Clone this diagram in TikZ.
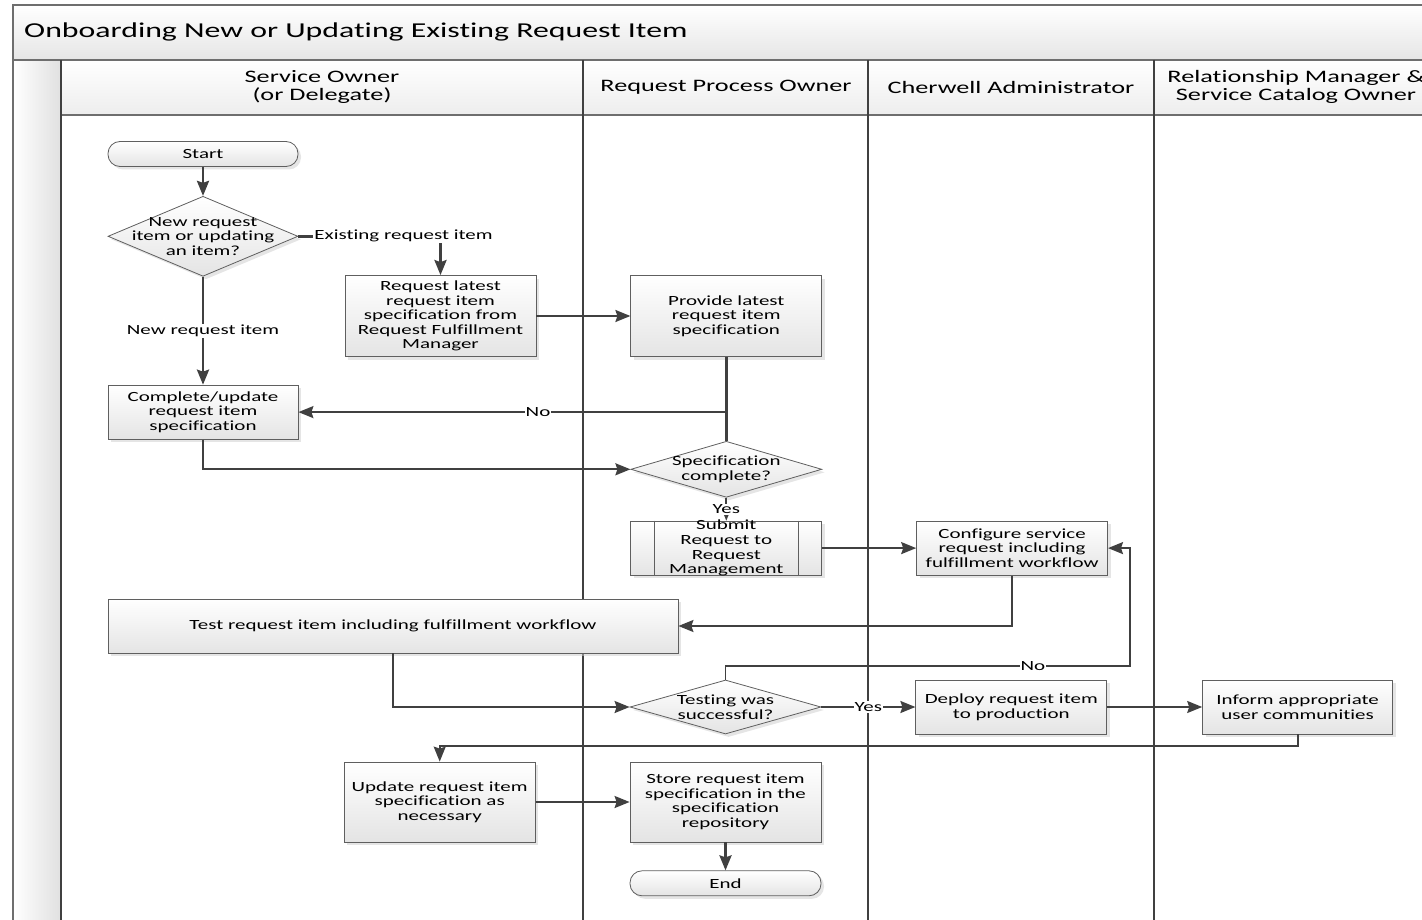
\documentclass[tikz,border=0pt]{standalone}
\usepackage{fontspec}
\setmainfont{Carlito}[FakeStretch=1.5, Ligatures=NoCommon]
\usepackage{tikz}
\usetikzlibrary{shapes.geometric, arrows.meta, positioning, shadows, calc}
\definecolor{lineclr}{RGB}{64,64,64}
\definecolor{boxedge}{RGB}{95,95,95}
\definecolor{boxfill}{RGB}{228,228,228}
\definecolor{frameclr}{RGB}{110,110,110}

\begin{document}
\begin{tikzpicture}[
  x=1pt, y=-1pt,
  font=\fontsize{14}{14.6}\selectfont,
  box/.style={rectangle, draw=boxedge, line width=0.8pt, top color=white, bottom color=boxfill,
              drop shadow={shadow xshift=3pt, shadow yshift=-3pt, fill=black!20},
              minimum width=191pt, minimum height=54pt, inner sep=2pt, align=center},
  decision/.style={diamond, draw=boxedge, line width=0.8pt, top color=white, bottom color=boxfill,
              drop shadow={shadow xshift=3pt, shadow yshift=-3pt, fill=black!20},
              minimum width=191pt, minimum height=54pt, inner sep=0pt},
  terminal/.style={box, rounded corners=12pt, minimum height=25pt},
  btext/.style={align=center, inner sep=0pt},
  arrow/.style={-{Stealth[length=15pt, width=12pt, inset=2pt]}, line width=1.9pt, draw=lineclr},
  heavy/.style={line width=2.8pt},
  lbl/.style={fill=white, inner sep=1pt},
  laneline/.style={draw=lineclr, line width=2pt},
  lanehead/.style={align=center, font=\fontsize{17.5}{18}\selectfont},
]
  \clip (0,0) rectangle (1422,920);
  \useasboundingbox (0,0) rectangle (1422,920);

  % pool and lanes
  \fill[top color=white, bottom color=black!10] (13,5) rectangle (1440,60);
  \fill[left color=white, right color=black!12] (13,60) rectangle (61,940);
  \fill[top color=white, bottom color=black!7] (61,60) rectangle (1440,115);
  \draw[frameclr, line width=1.5pt] (13,940) -- (13,5) -- (1440,5);
  \draw[frameclr, line width=1.5pt] (13,60) -- (1440,60);
  \draw[frameclr, line width=1.5pt] (61,115) -- (1440,115);
  \foreach \lx in {61,583,868,1154}
    \draw[laneline] (\lx,60) -- (\lx,940);

  \node[anchor=west, inner sep=0pt, font=\fontsize{21.2}{25}\selectfont] (title) at (24,32)
    {Onboarding New or Updating Existing Request Item};
  \node[lanehead] (laneso)  at (322,87)  {Service Owner\\(or Delegate)};
  \node[lanehead] (lanerpo) at (726,87)  {Request Process Owner};
  \node[lanehead] (laneca)  at (1011,87) {Cherwell Administrator};
  \node[lanehead] (lanerm)  at (1296,87) {Relationship Manager \&\\Service Catalog Owner};

  % steps
  \node[terminal, minimum width=190pt] (start) at (203,154) {Start};
  \node[decision, minimum width=190pt, minimum height=80pt, below=29pt of start,
        label={[btext]center:{New request\\item or updating\\an item?}}] (newq) {};
  \node[box, minimum width=190pt, below=108pt of newq] (complete)
    {Complete/update\\request item\\specification};
  \node[box, minimum height=81pt] (reqlatest) at (440.5,316)
    {Request latest\\request item\\specification from\\Request Fulfillment\\Manager};
  \node[box, minimum height=81pt, right=94pt of reqlatest] (provide)
    {Provide latest\\request item\\specification};
  \node[decision, minimum height=56pt, below=84pt of provide,
        label={[btext]center:{Specification\\complete?}}] (spec) {};
  \node[box, below=23pt of spec,
        label={[btext]center:{Submit\\Request to\\Request\\Management}}] (submit) {};
  \draw[boxedge, line width=0.8pt] ($(submit.north west)+(24,0)$) -- ($(submit.south west)+(24,0)$);
  \draw[boxedge, line width=0.8pt] ($(submit.north east)+(-24,0)$) -- ($(submit.south east)+(-24,0)$);
  \node[box, right=94pt of submit] (config)
    {Configure service\\request including\\fulfillment workflow};
  \node[box, minimum width=570pt] (test) at (393,626)
    {Test request item including fulfillment workflow};
  \node[decision] (testok) at (725.5,707)
    [label={[btext]center:{Testing was\\successful?}}] {};
  \node[box, right=94pt of testok] (deploy) {Deploy request item\\to production};
  \node[box, minimum width=190pt, right=95pt of deploy] (inform)
    {Inform appropriate\\user communities};
  \node[box, minimum height=80pt] (store) at (725.5,802)
    {Store request item\\specification in the\\specification\\repository};
  \node[box, minimum height=80pt, left=94pt of store] (update)
    {Update request item\\specification as\\necessary};
  \node[terminal, below=28pt of store] (endn) {End};
  \coordinate (noloop) at (1130,666);

  \draw[arrow, heavy] (start) -- (newq);
  \draw[arrow, heavy] (newq.south) -- node[lbl]{New request item} (complete.north);
  \draw[arrow, heavy] (newq.east) -| node[lbl, pos=0.37]{Existing request item} (reqlatest.north);
  \draw[arrow] (reqlatest) -- (provide);
  \draw[lineclr, line width=2.8pt] (provide) -- (spec);
  \draw[arrow] (spec.north) |- node[lbl, pos=0.72]{No} (complete.east);
  \draw[arrow] (complete.south) |- (spec.west);
  \draw[arrow] (spec) -- node[lbl]{Yes} (submit);
  \draw[arrow] (submit) -- (config);
  \draw[arrow] (config.south) |- (test.east);
  \draw[arrow] (test.south) |- (testok.west);
  \draw[arrow] (testok.north) |- node[lbl, pos=0.88]{No} (noloop) |- (config.east);
  \draw[arrow] (testok) -- node[lbl]{Yes} (deploy);
  \draw[arrow] (deploy) -- (inform);
  \draw[arrow] (inform.south) -- ++(0,12) -| (update.north);
  \draw[arrow] (update) -- (store);
  \draw[arrow, heavy] (store) -- (endn);
\end{tikzpicture}
\end{document}
